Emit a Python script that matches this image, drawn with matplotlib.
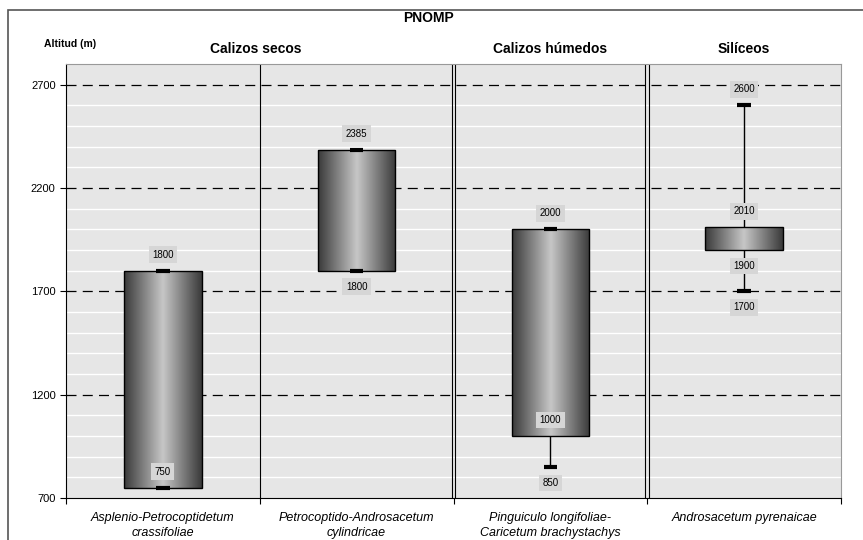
import matplotlib
matplotlib.use("Agg")
from matplotlib import pyplot as plt
from matplotlib.colors import LinearSegmentedColormap
from matplotlib.patches import Rectangle
import numpy as np

plt.rcParams['font.family'] = ['Liberation Sans', 'DejaVu Sans']

# data
communities = ["Asplenio-Petrocoptidetum\ncrassifoliae",
               "Petrocoptido-Androsacetum\ncylindricae",
               "Pinguiculo longifoliae-\nCaricetum brachystachys",
               "Androsacetum pyrenaicae"]
box_low = [750, 1800, 1000, 1900]
box_high = [1800, 2385, 2000, 2010]
range_low = [750, 1800, 850, 1700]
range_high = [1800, 2385, 2000, 2600]
# value labels: (community index, value, placed above?)
value_labels = [(0, 1800, True), (0, 750, True),
                (1, 2385, True), (1, 1800, False),
                (2, 2000, True), (2, 1000, True), (2, 850, False),
                (3, 2600, True), (3, 2010, True), (3, 1900, False), (3, 1700, False)]
groups = ["Calizos secos", "Calizos húmedos", "Silíceos"]
group_centers = [0.48, 2, 3]

fig = plt.figure(figsize=(8.63, 5.40), dpi=100)
ax = fig.add_axes([66 / 863, 1 - 498 / 540, 775 / 863, 434 / 540])
ax.set_facecolor('#e6e6e6')
ax.set_xlim(-0.5, 3.5)
ax.set_ylim(700, 2800)

# white minor grid, dashed major grid
for v in range(800, 2800, 100):
    if (v - 700) % 500:
        ax.axhline(v, color='white', lw=1.0, zorder=1)
for v in range(1200, 2800, 500):
    ax.axhline(v, color='black', lw=0.9, ls=(0, (8, 5)), zorder=1)

# separators between communities
ax.axvline(0.5, color='black', lw=0.8, zorder=2)
for x in (1.5, 2.5):
    ax.axvline(x - 0.01, color='black', lw=0.8, zorder=2)
    ax.axvline(x + 0.01, color='black', lw=0.8, zorder=2)

cmap = LinearSegmentedColormap.from_list('cyl', ['#3a3a3a', '#c6c6c6'])
t = np.linspace(0, 1, 200)
grad = (1 - np.abs(t - 0.5) * 2)[None, :]
w = 0.4
cap = 0.035
for i in range(len(communities)):
    ax.plot([i, i], [range_low[i], range_high[i]], color='black', lw=1, zorder=3)
    ax.imshow(grad, cmap=cmap, aspect='auto', zorder=4,
              extent=(i - w / 2, i + w / 2, box_low[i], box_high[i]))
    ax.add_patch(Rectangle((i - w / 2, box_low[i]), w, box_high[i] - box_low[i],
                           fill=False, edgecolor='black', lw=1, zorder=5))
    for v in (range_low[i], range_high[i]):
        ax.plot([i - cap, i + cap], [v, v], color='black', lw=3, zorder=6,
                solid_capstyle='butt')

for i, v, up in value_labels:
    ax.annotate(str(v), (i, v), xytext=(0, 11.5 if up else -11.5),
                textcoords='offset points', ha='center', va='center',
                fontsize=7, zorder=7,
                bbox=dict(boxstyle='square,pad=0.35', fc='#d6d6d6', ec='none'))

ax.set_yticks(range(700, 2800, 500))
ax.tick_params(axis='y', labelsize=8, length=4, direction='out')
ax.set_xticks([-0.5, 0.5, 1.5, 2.5, 3.5])
ax.set_xticklabels([])
ax.tick_params(axis='x', which='major', length=4, direction='out')
ax.set_xticks(range(4), minor=True)
ax.set_xticklabels(communities, minor=True, fontsize=9, style='italic',
                   linespacing=1.35)
ax.tick_params(axis='x', which='minor', length=0, pad=10)
for s in ('top', 'right'):
    ax.spines[s].set_color('#999999')

fig.text(428 / 863, 1 - 18 / 540, "PNOMP", ha='center', va='center',
         fontsize=10, fontweight='bold')
fig.text(70 / 863, 1 - 44 / 540, "Altitud (m)", ha='center', va='center',
         fontsize=7.5, fontweight='bold')
for g, c in zip(groups, group_centers):
    xf = ax.transData.transform((c, 0))[0] / fig.bbox.width
    fig.text(xf, 1 - 49 / 540, g, ha='center', va='center',
             fontsize=10, fontweight='bold')

fig.patches.append(Rectangle((8 / 863, -0.1), 1.2, 1 - 10 / 540 + 0.1,
                             transform=fig.transFigure, fill=False,
                             edgecolor='#555555', lw=1.2))

fig.savefig("out.png", dpi=100)
